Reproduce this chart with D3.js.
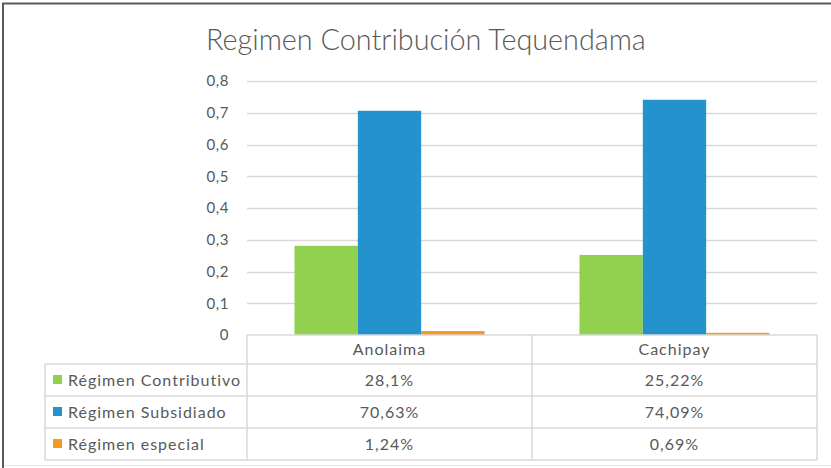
<!DOCTYPE html>
<html>
<head>
<meta charset="utf-8">
<script src="https://cdn.jsdelivr.net/npm/d3@7"></script>
<style>
  body { margin: 0; background: #fff; }
  svg text { font-family: Lato, "Open Sans", sans-serif; fill: #595959; }
</style>
</head>
<body>
<div id="chart"></div>
<script>
// Chart data
const categories = ["Anolaima", "Cachipay"];
const seriesNames = ["Régimen Contributivo", "Régimen Subsidiado", "Régimen especial"];
const contributivo = [0.281, 0.2522];
const subsidiado = [0.7063, 0.7409];
const especial = [0.0124, 0.0069];
const tableLabels = [["28,1%", "25,22%"], ["70,63%", "74,09%"], ["1,24%", "0,69%"]];
const yTicks = [0, 0.1, 0.2, 0.3, 0.4, 0.5, 0.6, 0.7, 0.8];
const colors = ["#92d050", "#2492cc", "#f39a1f"];

const seriesValues = [contributivo, subsidiado, especial];

const width = 831, height = 468;
const plot = { left: 247, right: 817, top: 81, bottom: 335 };
const tableLeft = 45;
const rowEdges = [335, 364, 396, 428, 460];

const svg = d3.select("#chart")
    .append("svg")
    .attr("width", width)
    .attr("height", height);

// Frame around the chart
svg.append("line").attr("x1", 2).attr("x2", width).attr("y1", 3.5).attr("y2", 3.5)
    .attr("stroke", "#5a5a5a").attr("stroke-width", 2);
svg.append("line").attr("x1", 3).attr("x2", 3).attr("y1", 3).attr("y2", height)
    .attr("stroke", "#5a5a5a").attr("stroke-width", 2);
svg.append("line").attr("x1", 4).attr("x2", width).attr("y1", 465.5).attr("y2", 465.5)
    .attr("stroke", "#e8e8e8").attr("stroke-width", 1);

// Title
const title = svg.append("text")
    .attr("x", 206)
    .attr("y", 50)
    .attr("font-size", 27)
    .attr("font-weight", 300)
    .text("Regimen Contribución Tequendama");
const tw = title.node().getComputedTextLength();
title.attr("font-size", 27 * 440 / tw);

// Scales
const y = d3.scaleLinear().domain([0, 0.8]).range([plot.bottom, plot.top]);
const x0 = d3.scaleBand().domain(categories).range([plot.left, plot.right]);
const x1 = d3.scaleBand().domain(seriesNames).range([0, x0.bandwidth()])
    .paddingInner(0).paddingOuter(0.75);

const locale = d3.formatLocale({ decimal: ",", thousands: ".", grouping: [3], currency: ["", ""] });
const fmt = locale.format(".1~f");

// Gridlines
svg.append("g")
    .selectAll("line")
    .data(yTicks.filter(d => d > 0))
    .join("line")
    .attr("x1", plot.left)
    .attr("x2", plot.right)
    .attr("y1", d => Math.round(y(d)) + 0.5)
    .attr("y2", d => Math.round(y(d)) + 0.5)
    .attr("stroke", "#d9d9d9")
    .attr("stroke-width", 1.5);

// Y axis labels
const yAxis = d3.axisLeft(y).tickValues(yTicks).tickFormat(fmt).tickSize(0).tickPadding(0);
const yAxisG = svg.append("g")
    .attr("transform", `translate(229,0)`)
    .call(yAxis);
yAxisG.select(".domain").remove();
yAxisG.selectAll("text")
    .attr("font-size", 15)
    .attr("letter-spacing", 0.6)
    .attr("font-family", "Lato, sans-serif")
    .attr("fill", "#595959");

// Bars
const groups = svg.append("g")
    .selectAll("g")
    .data(categories)
    .join("g")
    .attr("transform", d => `translate(${x0(d)},0)`);

groups.selectAll("rect")
    .data((d, i) => seriesNames.map((s, j) => ({ series: s, value: seriesValues[j][i], color: colors[j] })))
    .join("rect")
    .attr("x", d => x1(d.series))
    .attr("y", d => y(d.value))
    .attr("width", x1.bandwidth())
    .attr("height", d => y(0) - y(d.value))
    .attr("fill", d => d.color);

// Data table
const table = svg.append("g");
const lineColor = "#d9d9d9";

// header row (category cells only)
table.append("line").attr("x1", plot.left).attr("x2", plot.right)
    .attr("y1", rowEdges[0]).attr("y2", rowEdges[0]).attr("stroke", lineColor).attr("stroke-width", 1.5);
// horizontal lines for data rows
table.selectAll(".hline")
    .data(rowEdges.slice(1))
    .join("line")
    .attr("class", "hline")
    .attr("x1", tableLeft).attr("x2", plot.right)
    .attr("y1", d => d).attr("y2", d => d)
    .attr("stroke", lineColor).attr("stroke-width", 1.5);
// vertical lines
const colEdges = [plot.left].concat(categories.map(c => x0(c) + x0.bandwidth()));
table.selectAll(".vline")
    .data(colEdges)
    .join("line")
    .attr("class", "vline")
    .attr("x1", d => d).attr("x2", d => d)
    .attr("y1", rowEdges[0]).attr("y2", rowEdges[4])
    .attr("stroke", lineColor).attr("stroke-width", 1.5);
table.append("line").attr("x1", tableLeft).attr("x2", tableLeft)
    .attr("y1", rowEdges[1]).attr("y2", rowEdges[4]).attr("stroke", lineColor).attr("stroke-width", 1.5);

// category header text
table.selectAll(".cat")
    .data(categories)
    .join("text")
    .attr("class", "cat")
    .attr("x", d => x0(d) + x0.bandwidth() / 2)
    .attr("y", (rowEdges[0] + rowEdges[1]) / 2)
    .attr("dy", "0.35em")
    .attr("text-anchor", "middle")
    .attr("font-size", 16)
    .attr("letter-spacing", 1)
    .text(d => d);

// legend keys and series names
const rows = table.selectAll(".row")
    .data(seriesNames)
    .join("g")
    .attr("class", "row")
    .attr("transform", (d, i) => `translate(0,${(rowEdges[i + 1] + rowEdges[i + 2]) / 2})`);

rows.append("rect")
    .attr("x", 53)
    .attr("y", -5)
    .attr("width", 9)
    .attr("height", 9)
    .attr("fill", (d, i) => colors[i]);

rows.append("text")
    .attr("x", 68)
    .attr("dy", "0.35em")
    .attr("font-size", 16)
    .attr("letter-spacing", 1)
    .text(d => d);

rows.selectAll(".val")
    .data((d, i) => tableLabels[i])
    .join("text")
    .attr("class", "val")
    .attr("x", (d, j) => x0(categories[j]) + x0.bandwidth() / 2)
    .attr("dy", "0.35em")
    .attr("text-anchor", "middle")
    .attr("font-size", 16)
    .attr("letter-spacing", 1)
    .text(d => d);
</script>
</body>
</html>
